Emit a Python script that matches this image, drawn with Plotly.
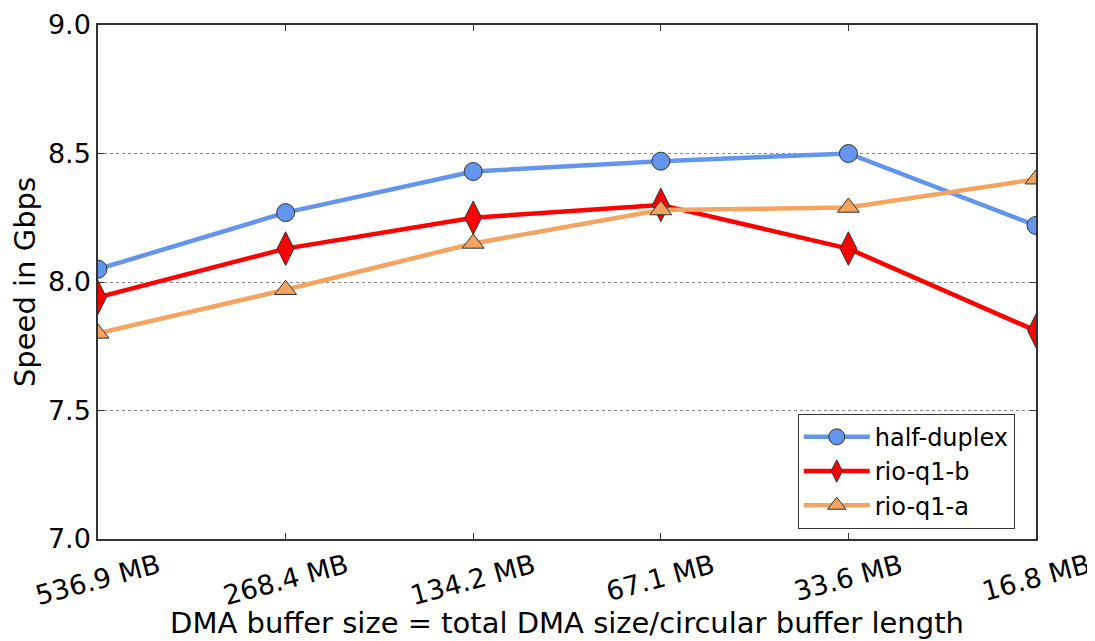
import plotly.graph_objects as go

categories = ["536.9 MB", "268.4 MB", "134.2 MB", "67.1 MB", "33.6 MB", "16.8 MB"]
half_duplex = [8.05, 8.27, 8.43, 8.47, 8.50, 8.22]
rio_q1_b = [7.94, 8.13, 8.25, 8.30, 8.13, 7.81]
rio_q1_a = [7.80, 7.97, 8.15, 8.28, 8.29, 8.40]
y_ticks = [7.0, 7.5, 8.0, 8.5, 9.0]

FONT = "DejaVu Sans"
xs = list(range(len(categories)))

fig = go.Figure()
series = [
    ("half-duplex", half_duplex, "#6495ED", "circle", 18),
    ("rio-q1-b", rio_q1_b, "#FF0000", "diamond-tall", 24),
    ("rio-q1-a", rio_q1_a, "#F4A460", "triangle-up", 19),
]
for name, vals, color, sym, size in series:
    fig.add_trace(go.Scatter(
        x=xs, y=vals, name=name, mode="lines+markers",
        line=dict(color=color, width=4.5),
        marker=dict(symbol=sym, size=size, color=color,
                    line=dict(color="#333333", width=1)),
    ))

for i, lab in enumerate(categories):
    fig.add_annotation(x=i, y=0, xref="x", yref="paper", text=lab,
                       showarrow=False, textangle=-15, yanchor="top",
                       xanchor="center", yshift=-7,
                       font=dict(family=FONT, size=27, color="black"))

# page body has an 8px margin, so the figure is sized/offset to compensate
fig.update_layout(
    width=1087, height=633,
    margin=dict(l=90, r=59, t=17, b=102, autoexpand=False),
    paper_bgcolor="white", plot_bgcolor="white",
    font=dict(family=FONT, size=27, color="black"),
    showlegend=True,
    legend=dict(x=0.746, y=0.2437, xanchor="left", yanchor="top",
                bgcolor="white", bordercolor="#333333", borderwidth=1,
                font=dict(family=FONT, size=24), itemwidth=66,
                tracegroupgap=0),
)
fig.update_xaxes(
    range=[0, 5], tickvals=xs, showticklabels=False, automargin=False,
    ticks="inside", ticklen=6, tickcolor="#333333", mirror="ticks",
    showline=True, linecolor="#333333", linewidth=1.5, showgrid=False,
    zeroline=False,
    title=dict(text="DMA buffer size = total DMA size/circular buffer length",
               font=dict(family=FONT, size=29), standoff=73),
)
fig.update_yaxes(
    range=[7.0, 9.0], tickvals=y_ticks, ticktext=[f"{v:.1f}" for v in y_ticks],
    ticks="inside", ticklen=6, tickcolor="#333333", mirror="ticks",
    automargin=False, ticklabeloverflow="allow",
    showline=True, linecolor="#333333", linewidth=1.5,
    showgrid=True, gridcolor="#888888", griddash="dot", gridwidth=1,
    zeroline=False, tickfont=dict(size=27),
    title=dict(text="Speed in Gbps", font=dict(family=FONT, size=29), standoff=5),
)
fig.write_html("out.html")
